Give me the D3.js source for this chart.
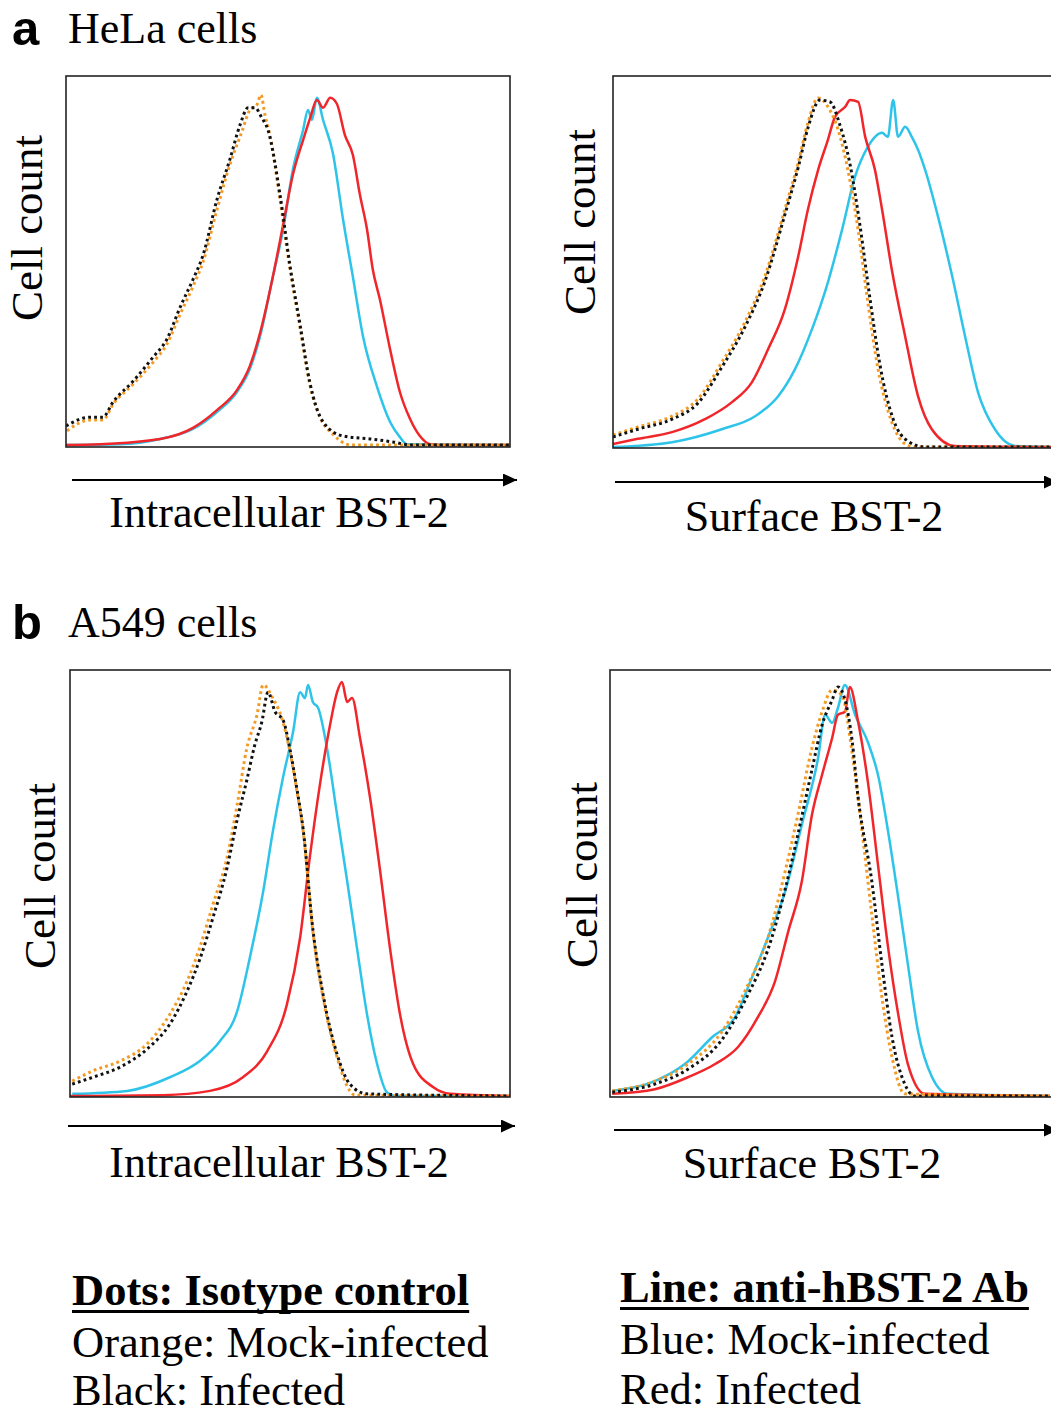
<!DOCTYPE html>
<html>
<head>
<meta charset="utf-8">
<script src="https://cdn.jsdelivr.net/npm/d3@7/dist/d3.min.js"></script>
<style>
  html, body { margin: 0; padding: 0; background: #fff; }
  svg { display: block; }
  text { font-family: "Liberation Serif", "Times New Roman", serif; fill: #000; }
</style>
</head>
<body>
<svg id="chart" width="1051" height="1414"></svg>
<script>
// ---------- DATA (x: fluorescence, % of axis; y: cell count, % of max) ----------
// Panel a: HeLa cells, intracellular BST-2
const helaIntraOrange = [[0.2,4.1],[5.4,7.0],[8.3,7.0],[10.6,11.3],[15.1,16.7],[19.6,22.6],[22.7,27.5],[25.7,35.6],[28.6,43.1],[30.9,49.9],[34.0,63.9],[36.9,76.0],[39.6,84.9],[41.4,90.8],[43.0,92.2],[43.9,94.9],[44.8,89.5],[45.9,84.1],[48.2,66.6],[50.4,48.2],[52.7,32.1],[54.9,16.7],[57.2,7.8],[60.1,3.2],[64.0,0.3],[100,0.3]];
const helaIntraBlack  = [[0,5.4],[5.4,7.8],[8.3,7.8],[10.6,11.9],[15.1,17.5],[19.6,24.0],[22.7,28.8],[25.7,37.5],[28.6,45.0],[30.9,51.7],[34.0,66.6],[36.9,77.4],[39.2,86.8],[41.0,91.4],[42.6,91.4],[44.1,88.7],[45.5,85.4],[48.2,67.9],[50.4,49.1],[52.7,32.9],[54.9,17.3],[57.9,6.5],[62.4,2.7],[68.5,1.9],[73.6,1.1],[77.5,0.3],[100,0.3]];
const helaIntraBlue   = [[0,0.3],[12.2,0.5],[21.2,1.9],[28.6,4.6],[34.0,9.2],[38.5,14.6],[41.4,20.8],[43.7,29.6],[46.6,45.8],[48.9,58.5],[51.1,74.7],[53.4,85.4],[54.5,90.8],[55.4,88.1],[56.5,94.1],[57.9,88.1],[60.1,79.2],[62.4,61.2],[64.6,45.8],[66.9,29.6],[70.0,16.2],[73.0,6.5],[75.2,2.4],[76.8,0.5],[100,0.3]];
const helaIntraRed    = [[0,0.3],[7.7,0.5],[21.2,1.9],[28.6,4.9],[34.0,9.7],[38.5,15.1],[41.4,21.6],[43.7,30.5],[46.6,45.8],[48.9,59.8],[51.1,73.3],[53.4,82.7],[55.0,88.7],[56.5,93.5],[57.9,91.4],[59.5,94.1],[61.0,92.5],[62.8,84.1],[64.6,78.7],[66.2,67.9],[67.8,58.5],[69.1,47.7],[70.7,39.6],[73.0,26.1],[75.2,14.6],[77.5,7.3],[79.7,2.7],[82.0,0.5],[84.2,0.3],[100,0.3]];

// Panel a: HeLa cells, surface BST-2
const helaSurfOrange = [[0,3.2],[5.6,5.4],[13.3,8.3],[19.1,12.9],[24.5,22.8],[29.7,33.6],[34.2,46.0],[38.7,64.0],[41.7,76.6],[43.9,87.4],[46.2,94.1],[48.4,91.7],[50.7,85.5],[52.9,74.7],[55.2,58.6],[57.4,39.0],[59.7,21.0],[62.8,6.7],[65.8,0.8],[68.0,0],[100,0]];
const helaSurfBlack  = [[0,2.7],[5.6,4.8],[13.3,7.5],[19.1,11.8],[24.5,21.5],[29.7,32.3],[34.2,44.6],[38.7,62.6],[41.7,75.3],[43.9,86.0],[46.6,93.5],[48.9,93.0],[51.1,86.8],[53.4,76.1],[55.6,59.9],[57.9,39.8],[60.1,22.3],[63.1,7.5],[66.4,1.6],[70.3,0],[100,0]];
const helaSurfBlue   = [[0,0],[13.3,1.3],[24.5,4.8],[32.0,8.3],[37.2,13.7],[41.0,21.0],[44.8,31.7],[48.4,44.4],[51.6,58.6],[54.5,72.8],[57.4,80.9],[60.6,84.7],[61.9,83.6],[63.1,93.5],[64.2,83.6],[65.8,86.3],[67.3,83.6],[68.7,80.1],[70.3,74.7],[73.2,62.1],[76.4,46.0],[79.3,29.8],[82.2,14.8],[86.0,4.8],[90.5,0.3],[100,0]];
const helaSurfRed    = [[0,0.8],[5.6,2.2],[13.3,4.0],[20.7,7.5],[26.8,12.1],[31.3,17.5],[34.9,26.3],[38.7,37.1],[41.7,51.3],[43.9,64.0],[46.2,74.7],[48.4,82.8],[50.0,89.0],[52.3,91.7],[53.4,93.5],[55.2,93.0],[56.8,83.6],[59.0,74.7],[60.6,64.0],[62.8,47.8],[65.8,29.8],[68.7,13.7],[71.8,4.8],[77.0,0.3],[100,0]];

// Panel b: A549 cells, intracellular BST-2
const a549IntraOrange = [[0.5,3.5],[5.2,5.9],[11.4,8.2],[17.5,12.2],[22.7,19.2],[26.6,26.9],[29.5,34.9],[32.5,45.0],[35.7,56.0],[38.0,68.4],[40.2,81.7],[42.5,89.5],[43.9,96.5],[46.1,93.4],[48.4,87.8],[50.0,80.8],[51.6,71.4],[53.0,62.1],[55.2,38.6],[57.5,23.2],[60.7,9.1],[63.6,1.2],[64.8,0.2],[100,0]];
const a549IntraBlack  = [[0.5,2.8],[5.2,4.4],[11.4,6.8],[17.5,11.0],[22.7,16.9],[26.6,24.6],[29.5,32.1],[32.5,41.9],[35.7,53.6],[38.0,64.9],[40.2,74.2],[42.0,82.4],[43.6,87.8],[45.0,94.8],[46.6,90.2],[48.4,88.3],[50.0,81.3],[51.6,71.9],[53.0,62.5],[55.2,39.1],[57.5,23.9],[60.7,9.8],[63.6,2.8],[67.5,0.5],[100,0]];
const a549IntraBlue   = [[0.5,0.5],[13.0,1.2],[22.7,4.4],[29.5,8.2],[34.1,12.9],[38.0,19.9],[40.9,32.6],[43.9,48.0],[46.1,62.1],[48.4,74.7],[50.7,85.5],[52.3,94.8],[53.4,93.4],[54.1,96.5],[55.2,92.5],[56.4,91.1],[58.4,81.7],[60.7,66.0],[63.0,50.4],[65.2,34.9],[67.5,19.2],[69.8,7.5],[72.0,0.9],[73.9,0],[100,0]];
const a549IntraRed    = [[0,0],[21.1,0.2],[31.8,1.2],[39.3,4.4],[44.8,10.5],[49.3,21.5],[52.3,37.2],[54.5,56.0],[56.8,73.1],[59.1,87.1],[60.7,94.8],[61.8,97.2],[63.0,92.5],[64.1,93.4],[65.9,84.1],[68.2,70.0],[70.5,52.7],[72.7,34.9],[75.0,19.2],[78.0,7.5],[82.5,2.1],[86.4,0.5],[100,0]];

// Panel b: A549 cells, surface BST-2
const a549SurfOrange = [[0.5,1.2],[10.2,3.5],[17.7,7.5],[25.5,15.2],[31.4,26.2],[35.9,37.2],[39.8,52.7],[42.7,66.0],[45.9,81.7],[48.2,90.2],[50.5,95.3],[52.7,94.1],[55.0,80.8],[57.3,62.1],[59.5,42.6],[61.8,23.2],[64.1,9.1],[67.0,0.5],[100,0]];
const a549SurfBlack  = [[0.5,0.9],[10.2,2.8],[17.7,6.3],[25.5,13.3],[31.4,23.9],[35.9,34.4],[39.8,48.5],[42.7,61.4],[45.9,76.6],[48.2,87.1],[50.5,93.0],[51.8,96.0],[53.4,93.0],[55.0,83.6],[56.4,70.0],[59.5,50.4],[61.8,30.9],[64.1,13.8],[67.0,2.8],[69.3,0],[100,0]];
const a549SurfBlue   = [[0.5,1.2],[10.2,3.5],[17.0,7.5],[23.2,13.8],[28.4,18.5],[32.3,27.9],[35.9,37.2],[39.8,48.0],[43.6,63.7],[47.3,79.4],[48.9,89.5],[50.5,87.6],[51.8,91.1],[53.4,96.5],[55.7,89.5],[58.6,83.1],[60.9,75.4],[63.2,62.1],[65.5,46.6],[67.7,30.9],[70.0,15.2],[73.2,4.4],[76.8,0.5],[100,0]];
const a549SurfRed    = [[0.5,0.5],[10.2,1.6],[17.7,4.4],[23.9,7.5],[29.1,11.5],[33.6,18.5],[37.5,26.9],[40.5,38.6],[43.6,50.4],[45.9,66.0],[48.2,75.4],[50.5,84.1],[51.8,89.5],[53.4,90.2],[54.5,96.0],[56.4,87.8],[58.6,73.8],[60.9,54.3],[63.2,34.9],[65.5,19.2],[67.7,7.5],[71.6,0.5],[100,0]];

// ---------- Text ----------
const sectionLabels = ["a", "b"];
const sectionTitles = ["HeLa cells", "A549 cells"];
const yTitle = "Cell count";
const xTitles = ["Intracellular BST-2", "Surface BST-2"];
const legendDots = ["Dots: Isotype control", "Orange: Mock-infected", "Black: Infected"];
const legendLines = ["Line: anti-hBST-2 Ab", "Blue: Mock-infected", "Red: Infected"];

// ---------- Layout / style ----------
const COLORS = { orange: "#f39a24", black: "#111111", blue: "#2ec4ea", red: "#f0262a" };

const panels = [
  { box: [66, 76, 510, 447],  series: [helaIntraBlue, helaIntraRed, helaIntraOrange, helaIntraBlack], open: false,
    ytitle: [42, 228], xtitle: [279, 527], xtext: xTitles[0], arrow: [72, 517, 480] },
  { box: [613, 76, 1057, 448], series: [helaSurfBlue, helaSurfRed, helaSurfOrange, helaSurfBlack], open: true,
    ytitle: [595, 222], xtitle: [814, 531], xtext: xTitles[1], arrow: [615, 1058, 482] },
  { box: [70, 670, 510, 1097], series: [a549IntraBlue, a549IntraRed, a549IntraOrange, a549IntraBlack], open: false,
    ytitle: [55, 876], xtitle: [279, 1177], xtext: xTitles[0], arrow: [68, 515, 1126] },
  { box: [610, 670, 1050, 1097], series: [a549SurfBlue, a549SurfRed, a549SurfOrange, a549SurfBlack], open: true,
    ytitle: [597, 875], xtitle: [812, 1178], xtext: xTitles[1], arrow: [614, 1058, 1130] }
];
const seriesStyle = [
  { color: COLORS.blue,   dash: null },
  { color: COLORS.red,    dash: null },
  { color: COLORS.orange, dash: "2.8,3.2" },
  { color: COLORS.black,  dash: "2.8,3.2" }
];

const svg = d3.select("#chart");
svg.append("rect").attr("width", 1051).attr("height", 1414).attr("fill", "#fff");

// arrow marker
svg.append("defs").append("marker")
  .attr("id", "arrowhead")
  .attr("viewBox", "0 0 14 13")
  .attr("refX", 14).attr("refY", 6.5)
  .attr("markerWidth", 14).attr("markerHeight", 13)
  .attr("markerUnits", "userSpaceOnUse")
  .attr("orient", "auto")
  .append("path").attr("d", "M0,0 L14,6.5 L0,13 Z").attr("fill", "#000");

panels.forEach(p => {
  const [x0, y0, x1, y1] = p.box;
  const x = d3.scaleLinear().domain([0, 100]).range([x0, x1]);
  const yS = d3.scaleLinear().domain([0, 100]).range([y1 - 1, y0]);
  const g = svg.append("g");

  const line = d3.line().x(d => x(d[0])).y(d => yS(d[1])).curve(d3.curveMonotoneX);

  const clipId = "clip" + x0 + "_" + y0;
  svg.append("clipPath").attr("id", clipId)
    .append("rect").attr("x", x0).attr("y", y0).attr("width", x1 - x0 + 40).attr("height", y1 - y0);

  const cg = g.append("g").attr("clip-path", `url(#${clipId})`);
  p.series.forEach((s, i) => {
    const st = seriesStyle[i];
    const path = cg.append("path").datum(s)
      .attr("d", line)
      .attr("fill", "none")
      .attr("stroke", st.color)
      .attr("stroke-width", st.dash ? 3 : 2.5)
      .attr("stroke-linejoin", "round");
    if (st.dash) path.attr("stroke-dasharray", st.dash);
  });

  // frame
  const w = p.open ? (1051 - x0 + 20) : (x1 - x0);
  g.append("rect").attr("x", x0).attr("y", y0).attr("width", w).attr("height", y1 - y0)
    .attr("fill", "none").attr("stroke", "#222").attr("stroke-width", 1.6);

  // y title
  svg.append("text")
    .attr("transform", `translate(${p.ytitle[0]},${p.ytitle[1]}) rotate(-90)`)
    .attr("text-anchor", "middle")
    .attr("font-size", 45)
    .text(yTitle);

  // x arrow
  svg.append("line")
    .attr("x1", p.arrow[0]).attr("x2", p.arrow[1]).attr("y1", p.arrow[2]).attr("y2", p.arrow[2])
    .attr("stroke", "#000").attr("stroke-width", 2)
    .attr("marker-end", "url(#arrowhead)");

  // x title
  svg.append("text")
    .attr("x", p.xtitle[0]).attr("y", p.xtitle[1])
    .attr("text-anchor", "middle").attr("font-size", 44)
    .text(p.xtext);
});

// section labels
[[12, 45, 40], [12, 639, 634]].forEach((pos, i) => {
  svg.append("text")
    .attr("x", pos[0]).attr("y", pos[1])
    .style("font-family", "'Liberation Sans', Arial, sans-serif")
    .attr("font-weight", "bold").attr("font-size", 49)
    .text(sectionLabels[i]);
  svg.append("text")
    .attr("x", 68).attr("y", pos[2] + 3)
    .attr("font-size", 44)
    .text(sectionTitles[i]);
});

// legends
function legend(lines, x, ys) {
  lines.forEach((t, i) => {
    const txt = svg.append("text").attr("x", x).attr("y", ys[i]).attr("font-size", 44.5).text(t);
    if (i === 0) {
      txt.attr("font-weight", "bold");
      const w = txt.node().getComputedTextLength();
      svg.append("rect").attr("x", x).attr("y", ys[i] + 5).attr("width", w).attr("height", 3).attr("fill", "#000");
    }
  });
}
legend(legendDots, 72, [1305, 1357, 1405]);
legend(legendLines, 620, [1302, 1354, 1404]);
</script>
</body>
</html>
